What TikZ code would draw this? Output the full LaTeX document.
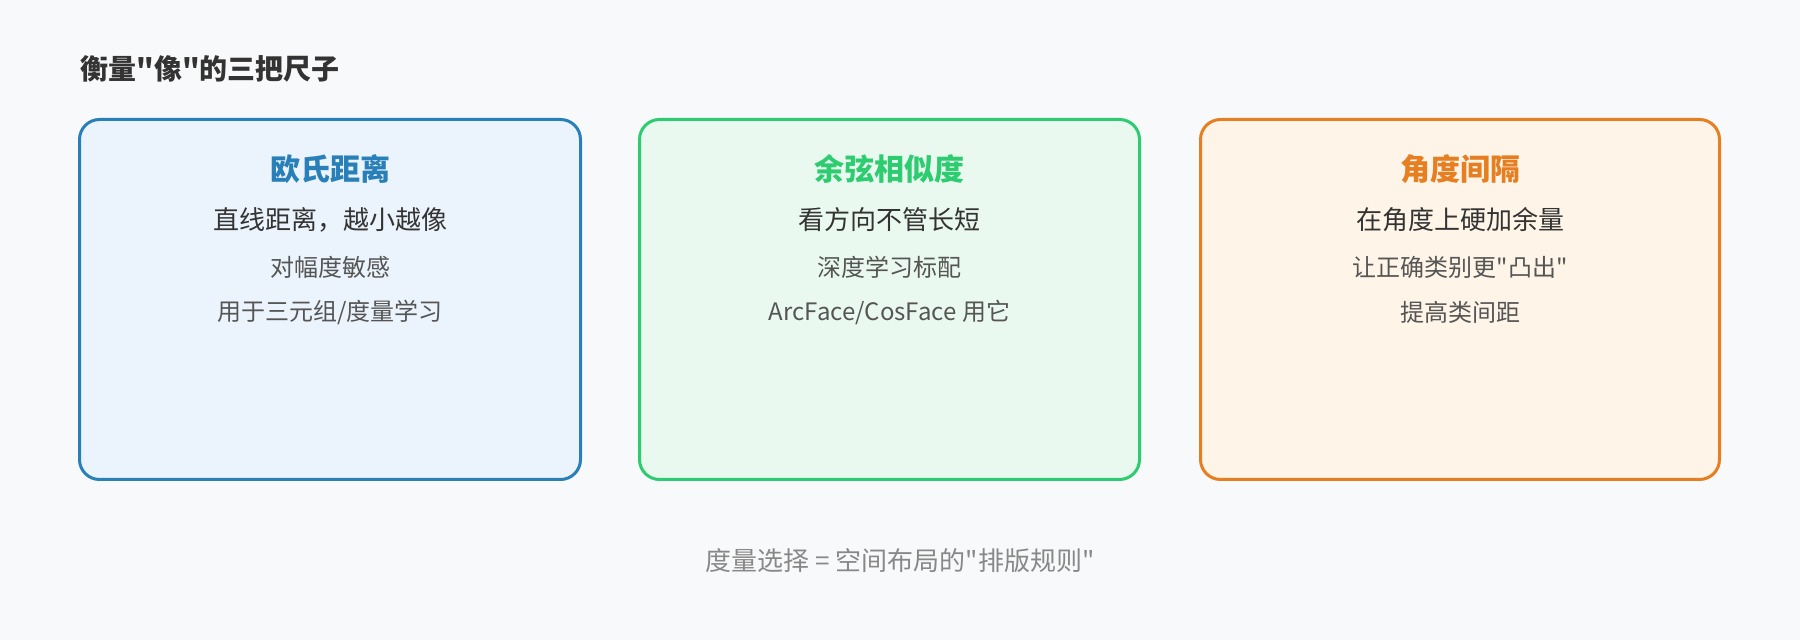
\documentclass[tikz,border=0pt]{standalone}
\usepackage{fontspec}
\setmainfont{Noto Sans CJK SC}[Ligatures=TeXOff]
\usepackage{tikz}
\usetikzlibrary{calc}

\definecolor{bg}{HTML}{F8F9FA}
\definecolor{ink}{HTML}{333333}
\definecolor{soft}{HTML}{555555}
\definecolor{mute}{HTML}{888888}
\definecolor{eucline}{HTML}{2980B9}
\definecolor{eucfill}{HTML}{EBF4FC}
\definecolor{cosline}{HTML}{2ECC71}
\definecolor{cosfill}{HTML}{EAF9EF}
\definecolor{angline}{HTML}{E67E22}
\definecolor{angfill}{HTML}{FEF4E7}

\begin{document}
\begin{tikzpicture}[x=0.5pt, y=-0.5pt, inner sep=0pt,
  card/.style={draw, line width=1.5pt, rounded corners=10pt, minimum height=180pt},
  head/.style={font=\bfseries\fontsize{15}{18}\selectfont},
  main/.style={text=ink, font=\fontsize{13}{16}\selectfont},
  note/.style={text=soft, font=\fontsize{12}{14}\selectfont}]
  \pgfmathsetmacro{\ya}{169};
  \pgfmathsetmacro{\yb}{220};
  \pgfmathsetmacro{\yc}{267};
  \pgfmathsetmacro{\yd}{312};

  \fill[bg] (0,0) rectangle (1800,640);

  \node[anchor=west, text=ink, font=\bfseries\fontsize{14}{17}\selectfont] (title) at (80, 69) {衡量"像"的三把尺子};

  \node[card, draw=eucline, fill=eucfill, minimum width=250.5pt] (euc) at (330, 299.5) {};
  \node[card, draw=cosline, fill=cosfill, minimum width=250pt] (cos) at (889.5, 299.5) {};
  \node[card, draw=angline, fill=angfill, minimum width=259.5pt] (ang) at (1460, 299.5) {};

  \node[head, text=eucline] (euct) at (330, \ya) {欧氏距离};
  \node[main] (euca) at (330, \yb) {直线距离，越小越像};
  \node[note] (eucb) at (330, \yc) {对幅度敏感};
  \node[note] (eucc) at (330, \yd) {用于三元组/度量学习};

  \node[head, text=cosline] (cost) at (889.5, \ya) {余弦相似度};
  \node[main] (cosa) at (889.5, \yb) {看方向不管长短};
  \node[note] (cosb) at (889.5, \yc) {深度学习标配};
  \node[note] (cosc) at (889.5, \yd) {ArcFace/CosFace 用它};

  \node[head, text=angline] (angt) at (1460, \ya) {角度间隔};
  \node[main] (anga) at (1460, \yb) {在角度上硬加余量};
  \node[note] (angb) at (1460, \yc) {让正确类别更"凸出"};
  \node[note] (angc) at (1460, \yd) {提高类间距};

  %\draw (euc) -- (cos);

  \node[text=mute, font=\fontsize{13}{16}\selectfont] (foot) at (900, 561) {度量选择 = 空间布局的"排版规则"};
\end{tikzpicture}
\end{document}
